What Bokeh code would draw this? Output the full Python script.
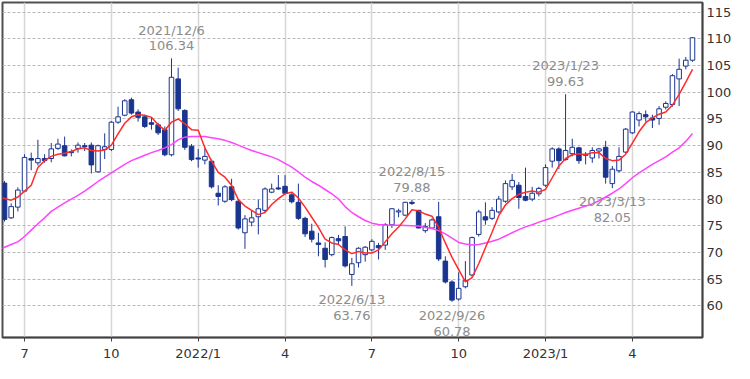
import numpy as np
import pandas as pd
from bokeh.plotting import figure
from bokeh.models import ColumnDataSource, FixedTicker, Range1d
from bokeh.embed import file_html
from bokeh.resources import INLINE
from bokeh.core.properties import value

# ---------------- data (weekly candles) ----------------
first_week = "2021-06-14"
opens = [83.0, 76.5, 78.5, 81.5, 87.6, 86.8, 87.6, 87.6, 89.5, 90.0,
         88.9, 89.5, 90.0, 90.1, 85.1, 89.3, 89.3, 94.4, 95.7, 98.6,
         96.3, 95.4, 94.3, 93.9, 93.0, 88.3, 102.5, 96.6, 89.9, 87.7,
         87.3, 87.1, 81.1, 79.6, 82.3, 79.6, 73.7, 75.7, 76.7, 77.9,
         81.3, 82.1, 82.4, 80.8, 79.4, 76.4, 74.0, 71.8, 70.8, 69.6,
         72.6, 73.0, 65.9, 68.1, 69.6, 70.5, 71.3, 71.4, 75.2, 77.6,
         77.0, 79.4, 77.9, 74.1, 74.6, 76.7, 68.4, 64.5, 61.3, 63.6,
         65.8, 73.4, 76.7, 76.4, 77.6, 79.6, 82.3, 82.6, 80.5, 80.0,
         81.0, 82.6, 87.1, 89.4, 87.4, 88.5, 89.6, 88.4, 87.7, 89.0,
         89.7, 82.9, 85.3, 88.8, 92.4, 94.8, 95.8, 95.2, 95.1, 97.2,
         97.7, 102.5, 104.9, 106.0]
highs = [83.4, 79.2, 82.2, 88.4, 88.7, 91.1, 88.4, 90.5, 91.3, 91.7,
         89.3, 90.6, 90.5, 90.6, 90.2, 92.3, 94.6, 97.3, 98.7, 99.0,
         96.8, 95.7, 95.4, 94.3, 93.6, 106.34, 104.6, 96.8, 90.3, 89.4,
         89.7, 87.4, 82.6, 82.6, 83.8, 79.9, 77.0, 77.9, 79.9, 82.2,
         82.9, 84.5, 84.5, 81.1, 82.9, 76.7, 75.4, 73.7, 71.9, 73.0,
         73.3, 74.9, 69.0, 71.0, 71.2, 72.5, 71.8, 75.5, 78.3, 78.2,
         79.5, 79.88, 78.0, 75.5, 76.4, 79.5, 69.3, 64.8, 66.3, 68.4,
         73.0, 78.0, 79.4, 78.5, 80.6, 83.5, 84.7, 83.2, 85.9, 82.3,
         82.3, 86.5, 89.7, 89.7, 99.63, 91.3, 89.8, 88.8, 89.7, 89.6,
         90.9, 86.2, 89.7, 93.3, 96.4, 96.4, 96.6, 95.8, 97.4, 98.3,
         103.4, 106.3, 106.6, 110.3]
lows = [75.8, 76.3, 77.7, 81.3, 85.4, 86.3, 86.8, 86.9, 89.2, 88.0,
        88.0, 88.7, 89.0, 84.8, 85.0, 87.5, 89.0, 94.1, 95.5, 95.8,
        94.5, 93.3, 93.0, 92.0, 88.0, 88.0, 96.5, 89.2, 87.1, 85.9,
        86.5, 82.0, 78.8, 79.3, 79.6, 74.3, 70.7, 74.9, 73.4, 77.6,
        81.1, 81.7, 80.9, 79.2, 76.1, 72.9, 71.9, 69.3, 67.2, 69.3,
        71.6, 67.2, 63.76, 67.2, 68.3, 70.2, 68.7, 70.5, 74.6, 76.6,
        76.8, 78.9, 74.5, 73.7, 74.4, 68.4, 64.2, 60.78, 61.0, 63.3,
        65.5, 73.0, 75.2, 76.1, 77.3, 79.3, 81.7, 78.2, 79.6, 79.6,
        80.5, 82.3, 85.9, 85.6, 87.2, 88.0, 86.6, 86.5, 86.8, 87.6,
        82.9, 82.05, 85.0, 88.6, 92.2, 93.6, 94.5, 93.3, 93.9, 96.8,
        97.3, 97.4, 104.3, 105.7]
closes = [76.2, 78.6, 81.7, 87.8, 87.3, 87.6, 87.2, 89.4, 90.3, 88.1,
          88.7, 90.1, 89.8, 86.4, 90.0, 89.8, 94.4, 95.4, 98.4, 96.1,
          95.3, 93.6, 94.0, 92.4, 88.3, 102.8, 96.9, 89.7, 87.4, 87.5,
          88.0, 82.3, 80.5, 82.3, 79.9, 74.6, 76.3, 76.5, 78.2, 81.9,
          81.9, 81.9, 81.1, 79.5, 76.4, 73.5, 72.5, 71.5, 68.7, 72.8,
          72.2, 67.5, 67.9, 70.8, 71.0, 72.1, 70.9, 75.2, 78.2, 77.8,
          79.4, 79.2, 74.6, 74.9, 76.1, 68.8, 64.5, 61.1, 63.3, 64.8,
          72.8, 77.6, 76.1, 77.9, 80.0, 82.9, 83.5, 80.3, 79.8, 81.1,
          82.0, 85.9, 89.4, 87.2, 89.1, 89.7, 87.2, 88.2, 89.1, 89.4,
          84.1, 85.6, 88.0, 93.1, 96.3, 96.0, 95.4, 94.8, 96.9, 97.9,
          103.1, 104.3, 106.0, 110.2]

# moving-average lines as drawn (they start one week before the first candle)
ma_first_week = "2021-06-07"
ma_short = [80.5, 80.1, 79.8, 80.4, 81.5, 82.6, 85.9, 87.2, 88.0, 88.4, 88.6,
            88.9, 89.4, 89.6, 89.1, 89.0, 89.2, 90.1, 92.2, 94.2, 95.4,
            95.8, 95.7, 95.3, 93.9, 92.9, 94.4, 95.0, 94.1, 93.0, 92.9,
            89.6, 87.1, 85.0, 84.1, 82.6, 79.9, 78.7, 77.9, 77.1, 77.5,
            79.0, 80.1, 81.0, 81.3, 80.2, 78.5, 76.6, 74.7, 72.5, 71.8,
            71.5, 70.5, 69.8, 70.2, 69.9, 69.9, 70.5, 72.0, 73.5, 74.8,
            76.3, 78.0, 77.8, 77.2, 76.8, 74.7, 71.8, 69.1, 66.8, 64.5,
            65.3, 67.9, 70.9, 73.8, 76.9, 78.9, 80.1, 80.9, 81.3, 81.5,
            81.3, 81.8, 84.0, 86.2, 87.6, 88.3, 88.5, 88.3, 88.7, 88.7,
            87.6, 87.2, 87.3, 88.4, 90.5, 92.6, 94.3, 95.2, 95.9, 96.3,
            97.6, 99.6, 101.9, 104.3]
ma_long = [70.5, 71.0, 71.5, 72.0, 73.0, 74.2, 75.4, 76.5, 77.7, 78.5, 79.3,
           80.0, 80.7, 81.5, 82.4, 83.3, 84.1, 84.9, 85.7, 86.5, 87.2,
           87.7, 88.2, 88.7, 89.1, 89.6, 90.2, 91.1, 91.6, 91.7, 91.7,
           91.7, 91.5, 91.3, 91.0, 90.6, 90.1, 89.6, 89.1, 88.7, 88.3,
           87.9, 87.4, 86.7, 86.0, 85.1, 84.1, 83.3, 82.6, 81.8, 81.0,
           80.0, 78.6, 77.5, 76.7, 76.0, 75.5, 75.25, 75.15, 75.1, 75.1,
           75.05, 75.0, 74.95, 74.7, 74.5, 74.1, 73.5, 72.7, 71.9, 71.6,
           71.4, 71.5, 71.8, 72.1, 72.5, 73.1, 73.7, 74.3, 74.8, 75.2,
           75.7, 76.1, 76.5, 77.0, 77.5, 77.9, 78.3, 78.7, 79.1, 79.7,
           80.4, 81.1, 81.9, 82.9, 84.0, 84.9, 85.7, 86.5, 87.2, 87.9,
           88.8, 89.6, 90.8, 92.3]

# annotated extremes
ann_dates = ["2021-12-06", "2022-08-15", "2023-01-23", "2022-06-13", "2022-09-26", "2023-03-13"]
ann_values = [106.34, 79.88, 99.63, 63.76, 60.78, 82.05]
ann_kinds = ["high", "high", "high", "low", "low", "low"]

y_ticks = [60, 65, 70, 75, 80, 85, 90, 95, 100, 105, 110, 115]

# ---------------- build ----------------
NAVY = "#1a3590"
dates = pd.date_range(first_week, periods=len(closes), freq="7D")
idx = np.arange(len(closes))
o = np.array(opens); c = np.array(closes); h = np.array(highs); l = np.array(lows)
up = c >= o
src = ColumnDataSource(dict(
    x=idx, high=h, low=l,
    top=np.maximum(o, c), bottom=np.minimum(o, c),
    fill=np.where(up, "#ffffff", NAVY),
))

ma_dates = pd.date_range(ma_first_week, periods=len(ma_short), freq="7D")
ma_idx = np.array([(d - dates[0]).days / 7.0 for d in ma_dates])

tick_idx = [int(i) for i, d in enumerate(dates) if d.month in (1, 4, 7, 10) and d.day <= 7]
tick_lbl = {i: (f"{dates[i].year}/1" if dates[i].month == 1 else str(dates[i].month)) for i in tick_idx}

p = figure(width=734, height=363, output_backend="svg", toolbar_location=None,
           x_range=Range1d(-0.3, len(closes) + 0.5), y_range=Range1d(54.1, 116.8),
           y_axis_location="right", x_axis_location="below",
           min_border_left=2, min_border_top=2, min_border_right=2, min_border_bottom=0)
p.background_fill_color = "white"
p.border_fill_color = "white"
p.outline_line_color = "#505050"
p.outline_line_width = 2

FONT = "DejaVu Sans"
for ax in (p.xaxis[0], p.yaxis[0]):
    ax.axis_line_color = "#404040"
    ax.axis_line_width = 1.5
    ax.major_label_text_font = FONT
    ax.major_label_text_font_size = "13px"
    ax.major_label_text_color = "#333333"
    ax.minor_tick_line_color = None
    ax.major_tick_in = 0

p.xaxis.ticker = FixedTicker(ticks=tick_idx)
p.xaxis.major_label_overrides = tick_lbl
p.xaxis.major_tick_out = 4
p.xaxis.major_tick_line_color = "#404040"
p.xaxis.major_label_standoff = 4

p.yaxis.ticker = FixedTicker(ticks=y_ticks)
p.yaxis.major_tick_out = 0
p.yaxis.major_tick_line_color = None
p.yaxis.major_label_standoff = 4

p.xgrid.ticker = FixedTicker(ticks=tick_idx)
p.xgrid.grid_line_color = "#d6d6d6"
p.xgrid.grid_line_width = 1.5
p.ygrid.ticker = FixedTicker(ticks=y_ticks)
p.ygrid.grid_line_color = "#b8b8b8"
p.ygrid.grid_line_dash = "3 2"
p.ygrid.grid_line_width = 1

# candles
p.segment(x0="x", y0="high", x1="x", y1="low", source=src, line_color=NAVY, line_width=1)
p.vbar(x="x", width=0.68, top="top", bottom="bottom", source=src,
       fill_color="fill", line_color=NAVY, line_width=1)

# moving averages
p.line(ma_idx, ma_long, line_color="#ff44ff", line_width=1.5)
p.line(ma_idx, ma_short, line_color="#ff2a2a", line_width=1.5)

# annotations
def ann_src(kind):
    xs, ys, ts = [], [], []
    for d, v, k in zip(ann_dates, ann_values, ann_kinds):
        if k != kind:
            continue
        ts_ = pd.Timestamp(d)
        xs.append(int(dates.get_loc(ts_)))
        ys.append(v)
        ts.append(f"{ts_.year}/{ts_.month}/{ts_.day}\n{v:.2f}")
    return ColumnDataSource(dict(x=xs, y=ys, t=ts))

common = dict(text="t", text_font=value(FONT), text_font_size="13px",
              text_color="#8c8c8c", text_align="center", text_line_height=1.05)
p.text(x="x", y="y", source=ann_src("high"), text_baseline="bottom", y_offset=-5, **common)
p.text(x="x", y="y", source=ann_src("low"), text_baseline="top", y_offset=6, **common)

open("out.html", "w").write(file_html(p, INLINE))
